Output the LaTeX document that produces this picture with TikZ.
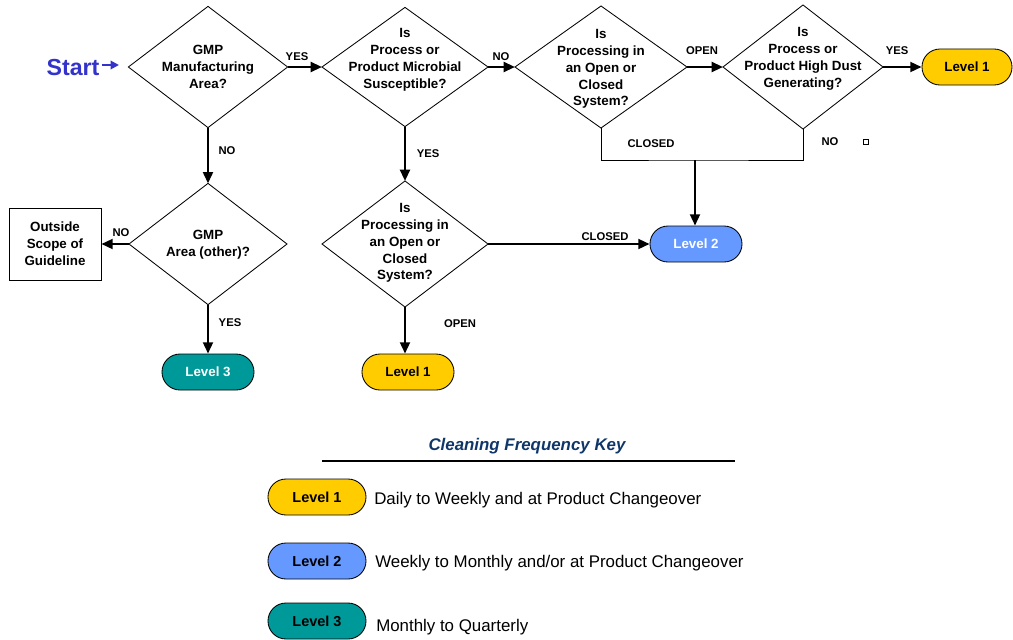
\documentclass[tikz,border=0pt]{standalone}
\usepackage{fontspec}
\setmainfont{Liberation Sans}
\usetikzlibrary{shapes.geometric,shapes.misc,arrows.meta}
\definecolor{lvlone}{RGB}{255,204,0}
\definecolor{lvltwo}{RGB}{102,153,255}
\definecolor{lvlthree}{RGB}{0,153,153}
\definecolor{startblue}{RGB}{51,51,204}
\definecolor{keynavy}{RGB}{16,54,105}
\begin{document}
\begin{tikzpicture}[x=0.025cm,y=-0.025cm,
  question/.style={diamond,draw,line width=0.6pt,inner sep=0pt,outer sep=0pt},
  qtext/.style={align=center,font=\bfseries\fontsize{9.5}{12}\selectfont},
  level/.style={rounded rectangle,draw,line width=0.6pt,minimum width=2.3cm,minimum height=0.9cm,inner sep=0pt,font=\bfseries\fontsize{9.5}{12}\selectfont},
  answer/.style={font=\bfseries\fontsize{8}{10}\selectfont},
  keytxt/.style={anchor=west,inner sep=0pt,font=\fontsize{12}{14}\selectfont},
  flow/.style={line width=1.6pt,-{Triangle[length=8pt,width=7pt]}},
  link/.style={line width=0.6pt}]
\useasboundingbox (0,0) rectangle (1013,639);
% start
\node[font=\bfseries\fontsize{16.5}{20}\selectfont,text=startblue,inner sep=0pt] (start) at (73,68) {Start};
\coordinate (startend) at (119,65);
\draw[startblue,line width=1.4pt,-{Triangle[length=6pt,width=6pt]}] (start.east) ++(2,-3) -- (startend);
% top row
\node[question,minimum width=3.98cm,minimum height=3.03cm] (gmp) at (208,67) {};
\node[qtext] (gmptxt) at (gmp) {GMP\\Manufacturing\\Area?};
\node[question,minimum width=4.15cm,minimum height=2.98cm] (micro) at (405,67) {};
\node[qtext] (microtxt) at (405,60) {Is\\Process or\\Product Microbial\\Susceptible?};
\node[question,minimum width=4.3cm,minimum height=3.05cm] (sys) at (601,67) {};
\node[qtext] (systxt) at (601,69) {Is\\Processing in\\an Open or\\Closed\\System?};
\node[question,minimum width=4cm,minimum height=3.1cm] (dust) at (803,67) {};
\node[qtext] (dusttxt) at (803,59) {Is\\Process or\\Product High Dust\\Generating?};
\node[level,fill=lvlone,minimum width=2.25cm] (lvlA) at (967,67) {Level 1};
% lower rows
\node[question,minimum width=3.95cm,minimum height=3.03cm] (other) at (208,244) {};
\node[qtext] (othertxt) at (208,245) {GMP\\Area (other)?};
\node[draw,line width=0.6pt,minimum width=2.3cm,minimum height=1.8cm,qtext] (scope) at (55,244) {Outside\\Scope of\\Guideline};
\node[question,minimum width=4.15cm,minimum height=3.15cm] (sys2) at (405,244) {};
\node[qtext] (sys2txt) at (405,243) {Is\\Processing in\\an Open or\\Closed\\System?};
\node[level,fill=lvltwo,text=white] (lvlB) at (696,244) {Level 2};
\node[level,fill=lvlthree,text=white] (lvlC) at (208,372) {Level 3};
\node[level,fill=lvlone] (lvlD) at (408,372) {Level 1};
% connectors
\draw[flow] (gmp.east) -- (micro.west);
\draw[flow] (micro.east) -- (sys.west);
\draw[flow] (sys.east) -- (dust.west);
\draw[flow] (dust.east) -- (lvlA.west);
\draw[flow] (gmp.south) -- (other.north);
\draw[flow] (other.west) -- (scope.east);
\draw[flow] (other.south) -- (lvlC.north);
\draw[flow] (micro.south) -- (sys2.north);
\draw[flow] (sys2.east) -- (lvlB.west);
\draw[flow] (sys2.south) -- (sys2.south |- lvlD.north);
\coordinate (merge) at (695,160);
\draw[link] (sys.south) |- (merge) -| (dust.south);
\draw[flow] (merge) -- (merge |- lvlB.north);
\node[draw,line width=0.5pt,minimum size=0.14cm,inner sep=0pt] (mark) at (866,142) {};
% answers
\node[answer] (a1) at (297,57) {YES};
\node[answer] (a2) at (501,57) {NO};
\node[answer] (a3) at (702,51) {OPEN};
\node[answer] (a4) at (897,51) {YES};
\node[answer] (a5) at (227,151) {NO};
\node[answer] (a6) at (428,154) {YES};
\node[answer] (a7) at (651,144) {CLOSED};
\node[answer] (a8) at (830,142) {NO};
\node[answer] (a9) at (121,233) {NO};
\node[answer] (a10) at (230,323) {YES};
\node[answer] (a11) at (605,237) {CLOSED};
\node[answer] (a12) at (460,324) {OPEN};
% key
\node[font=\bfseries\itshape\fontsize{12}{14}\selectfont,text=keynavy] (keytitle) at (527,446) {Cleaning Frequency Key};
\coordinate (ruleL) at (322,461);
\coordinate (ruleR) at (735,461);
\draw[line width=2pt] (ruleL) -- (ruleR);
\node[level,fill=lvlone,minimum width=2.45cm,font=\bfseries\fontsize{10.3}{12}\selectfont] (key1) at (317,497) {Level 1};
\node[keytxt] (desc1) at (374,500) {Daily to Weekly and at Product Changeover};
\node[level,fill=lvltwo,minimum width=2.45cm,font=\bfseries\fontsize{10.3}{12}\selectfont] (key2) at (317,561) {Level 2};
\node[keytxt] (desc2) at (375,563) {Weekly to Monthly and/or at Product Changeover};
\node[level,fill=lvlthree,minimum width=2.45cm,font=\bfseries\fontsize{10.3}{12}\selectfont] (key3) at (317,621) {Level 3};
\node[keytxt] (desc3) at (376,627) {Monthly to Quarterly};
\end{tikzpicture}
\end{document}
